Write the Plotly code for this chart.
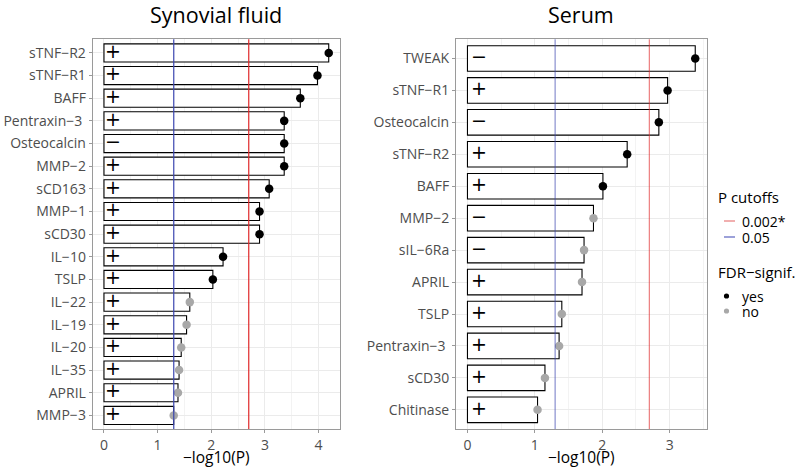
import plotly.graph_objects as go

# Synovial fluid panel
sf_markers = ["sTNF−R2", "sTNF−R1", "BAFF", "Pentraxin−3 ", "Osteocalcin", "MMP−2",
              "sCD163", "MMP−1", "sCD30", "IL−10", "TSLP", "IL−22", "IL−19",
              "IL−20", "IL−35", "APRIL", "MMP−3"]
sf_logp = [4.19, 3.98, 3.66, 3.36, 3.36, 3.36, 3.08, 2.90, 2.90, 2.22, 2.03,
           1.60, 1.54, 1.44, 1.40, 1.38, 1.30]
sf_sign = ["+", "+", "+", "+", "−", "+", "+", "+", "+", "+", "+",
           "+", "+", "+", "+", "+", "+"]
sf_fdr = ["yes"] * 11 + ["no"] * 6

# Serum panel
se_markers = ["TWEAK", "sTNF−R1", "Osteocalcin", "sTNF−R2", "BAFF", "MMP−2",
              "sIL−6Ra", "APRIL", "TSLP", "Pentraxin−3 ", "sCD30", "Chitinase"]
se_logp = [3.38, 2.97, 2.84, 2.37, 2.01, 1.87, 1.73, 1.70, 1.40, 1.36, 1.15, 1.04]
se_sign = ["−", "+", "−", "+", "+", "−", "−", "+", "+", "+", "+", "+"]
se_fdr = ["yes"] * 5 + ["no"] * 7

cutoffs = [0.002, 0.05]
cutoff_labels = ["0.002*", "0.05"]
cutoff_values = [2.699, 1.301]

W, H = 797, 468
FONT = "Open Sans"
DOT = {"yes": "black", "no": "#a8a8a8"}


def px(x, y):
    return x / W, 1 - y / H


fig = go.Figure()


def add_panel(names, vals, signs, fdr, xa, ya):
    fig.add_trace(go.Bar(
        x=vals, y=names, orientation="h", width=0.8,
        marker=dict(color="white", line=dict(color="black", width=1.1)),
        xaxis=xa, yaxis=ya, showlegend=False, hoverinfo="skip"
    ))
    fig.add_trace(go.Scatter(
        x=[0.17] * len(names), y=names, mode="text", text=signs,
        textfont=dict(family="DejaVu Sans", size=19, color="black"),
        xaxis=xa, yaxis=ya, showlegend=False, hoverinfo="skip"
    ))
    fig.add_trace(go.Scatter(
        x=vals, y=names, mode="markers",
        marker=dict(size=8.5, color=[DOT[f] for f in fdr]),
        xaxis=xa, yaxis=ya, showlegend=False
    ))


add_panel(sf_markers, sf_logp, sf_sign, sf_fdr, "x", "y")
add_panel(se_markers, se_logp, se_sign, se_fdr, "x2", "y2")

# cutoff lines
line_cols = ["#e0282a", "#3b45b0"]
for xref, yref, op in [("x", "y domain", 1.0), ("x2", "y2 domain", 0.6)]:
    for v, c in zip(cutoff_values, line_cols):
        fig.add_shape(type="line", xref=xref, yref=yref, x0=v, x1=v, y0=0, y1=1,
                      line=dict(color=c, width=1.2), opacity=op, layer="above")

axis_common = dict(
    showline=True, mirror=True, linecolor="#9a9a9a", linewidth=1,
    ticks="outside", ticklen=3, tickcolor="#9a9a9a",
    tickfont=dict(family=FONT, size=14, color="#4d4d4d"),
    showgrid=True, gridcolor="#ebebeb", gridwidth=1, zeroline=False,
    automargin=False,
)
xtitle = dict(text="−log10(P)", font=dict(family=FONT, size=15.5, color="black"), standoff=1)

x0, y0 = px(92.7, 429)
x1, y1 = px(340, 39.3)
x2, _ = px(456, 429)
x3, _ = px(706.7, 39.3)

fig.update_layout(
    width=W, height=H, margin=dict(l=0, r=0, t=0, b=0, autoexpand=False),
    plot_bgcolor="white", paper_bgcolor="white", showlegend=False,
    font=dict(family=FONT),
    xaxis=dict(axis_common, domain=[x0, x1], range=[-0.21, 4.40],
               tickvals=[0, 1, 2, 3, 4], minor=dict(dtick=0.5, showgrid=True, gridcolor="#f3f3f3"),
               title=xtitle, anchor="y"),
    yaxis=dict(axis_common, domain=[y0, y1], range=[16.6, -0.6], anchor="x",
               categoryorder="array", categoryarray=sf_markers),
    xaxis2=dict(axis_common, domain=[x2, x3], range=[-0.17, 3.55],
                tickvals=[0, 1, 2, 3], minor=dict(dtick=0.5, showgrid=True, gridcolor="#f3f3f3"),
                title=xtitle, anchor="y2"),
    yaxis2=dict(axis_common, domain=[y0, y1], range=[11.6, -0.6], anchor="x2",
                categoryorder="array", categoryarray=se_markers),
)

# panel titles
for text, xc in [("Synovial fluid", (92.7 + 340) / 2), ("Serum", (456 + 706.7) / 2)]:
    ax, ay = px(xc, 14)
    fig.add_annotation(text=text, x=ax, y=ay, xref="paper", yref="paper",
                       xanchor="center", yanchor="middle", showarrow=False,
                       font=dict(family=FONT, size=21.5, color="black"))

# legend
def leg_text(text, x, y, size):
    ax, ay = px(x, y)
    fig.add_annotation(text=text, x=ax, y=ay, xref="paper", yref="paper",
                       xanchor="left", yanchor="middle", showarrow=False,
                       font=dict(family=FONT, size=size, color="black"))


leg_text("P cutoffs", 716, 197, 15)
for lab, c, y in zip(cutoff_labels, ["#e87b7b", "#5b63c0"], [221, 237]):
    ax0, ay = px(724, y)
    ax1, _ = px(735, y)
    fig.add_shape(type="line", xref="paper", yref="paper", x0=ax0, x1=ax1, y0=ay, y1=ay,
                  line=dict(color=c, width=1.2))
    leg_text(lab, 740, y, 14)

leg_text("FDR−signif.", 716, 272, 15)
for lab, y in zip(["yes", "no"], [296, 311]):
    cx, cy = 726.5, y
    a0, b0 = px(cx - 2.6, cy - 2.6)
    a1, b1 = px(cx + 2.6, cy + 2.6)
    fig.add_shape(type="circle", xref="paper", yref="paper", x0=a0, x1=a1, y0=b1, y1=b0,
                  fillcolor=DOT[lab], line=dict(width=0))
    leg_text(lab, 740, y, 14)

# page body has a default margin; drop it so the figure sits at 0,0
fig.write_html("out.html", config={"displayModeBar": False},
               post_script="document.body.style.margin='0';")
